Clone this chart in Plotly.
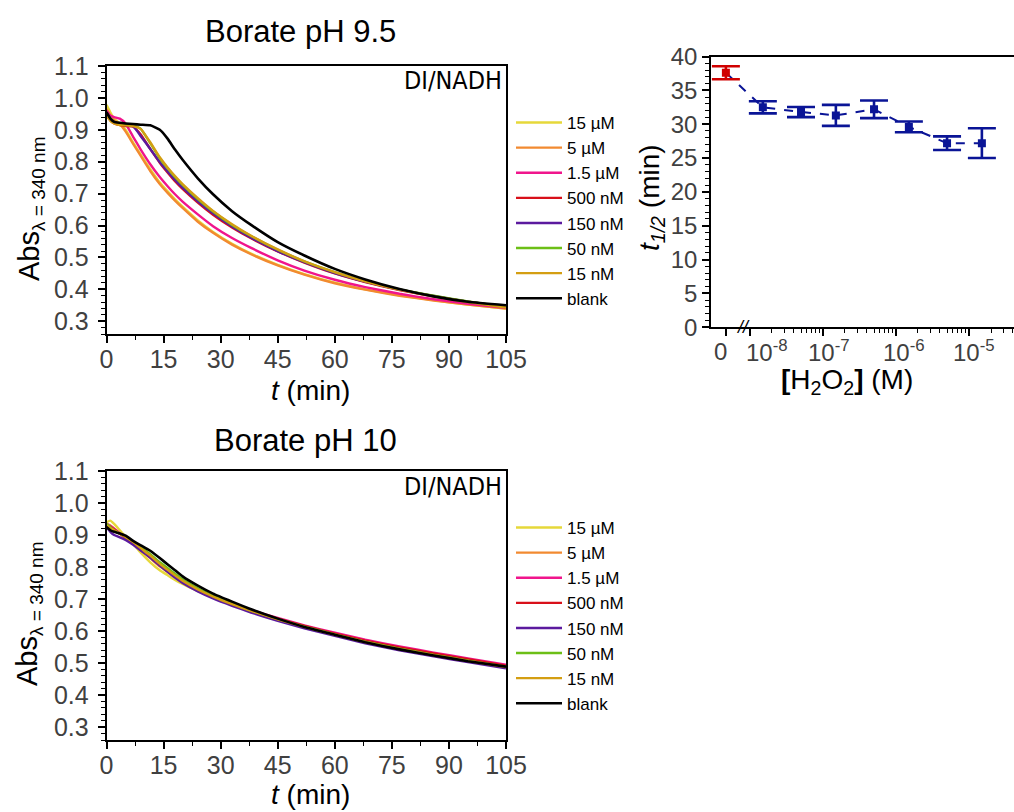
import plotly.graph_objects as go

# ---------------- data ----------------
time_min = [0, 1, 2, 3.5, 5, 7, 9, 11.5, 14, 16, 18, 20, 24, 28, 33, 38, 45, 52, 60, 68, 77, 86, 95, 105]

labels = ["15 µM", "5 µM", "1.5 µM", "500 nM", "150 nM", "50 nM", "15 nM", "blank"]
colors = ["#E6D83A", "#F28A30", "#F0158C", "#D8101A", "#5B1A9E", "#6CBF16", "#D49E12", "#000000"]

# Borate pH 9.5
ph95_15uM = [0.978, 0.955, 0.935, 0.920, 0.900, 0.860, 0.822, 0.777, 0.735, 0.708, 0.682, 0.659, 0.616, 0.580, 0.543, 0.512, 0.477, 0.448, 0.421, 0.400, 0.381, 0.366, 0.352, 0.340]
ph95_5uM = [0.965, 0.945, 0.930, 0.918, 0.895, 0.856, 0.818, 0.771, 0.730, 0.703, 0.678, 0.655, 0.612, 0.577, 0.540, 0.510, 0.475, 0.446, 0.419, 0.399, 0.380, 0.365, 0.352, 0.340]
ph95_1_5uM = [0.960, 0.945, 0.940, 0.935, 0.920, 0.878, 0.838, 0.792, 0.752, 0.724, 0.698, 0.675, 0.635, 0.598, 0.561, 0.530, 0.491, 0.459, 0.430, 0.407, 0.386, 0.369, 0.355, 0.342]
ph95_500nM = [0.950, 0.930, 0.920, 0.915, 0.912, 0.910, 0.885, 0.840, 0.797, 0.767, 0.739, 0.715, 0.672, 0.634, 0.594, 0.560, 0.519, 0.484, 0.450, 0.423, 0.398, 0.378, 0.361, 0.345]
ph95_150nM = [0.955, 0.935, 0.925, 0.918, 0.915, 0.912, 0.880, 0.840, 0.799, 0.770, 0.743, 0.719, 0.676, 0.638, 0.597, 0.562, 0.520, 0.485, 0.451, 0.424, 0.399, 0.379, 0.361, 0.345]
ph95_50nM = [0.955, 0.935, 0.925, 0.918, 0.916, 0.914, 0.903, 0.858, 0.811, 0.780, 0.752, 0.727, 0.683, 0.644, 0.602, 0.567, 0.524, 0.488, 0.454, 0.426, 0.400, 0.380, 0.362, 0.345]
ph95_15nM = [0.945, 0.928, 0.920, 0.915, 0.914, 0.912, 0.903, 0.861, 0.814, 0.783, 0.755, 0.730, 0.686, 0.646, 0.604, 0.568, 0.525, 0.488, 0.454, 0.425, 0.399, 0.378, 0.360, 0.343]
ph95_blank = [0.955, 0.935, 0.925, 0.922, 0.920, 0.918, 0.916, 0.914, 0.900, 0.873, 0.838, 0.806, 0.748, 0.698, 0.645, 0.602, 0.548, 0.506, 0.464, 0.431, 0.401, 0.378, 0.361, 0.350]

# Borate pH 10
ph10_15uM = [0.940, 0.945, 0.935, 0.915, 0.895, 0.872, 0.845, 0.815, 0.790, 0.775, 0.760, 0.747, 0.725, 0.705, 0.682, 0.661, 0.635, 0.612, 0.588, 0.565, 0.543, 0.524, 0.506, 0.487]
ph10_5uM = [0.935, 0.930, 0.920, 0.905, 0.892, 0.874, 0.853, 0.828, 0.802, 0.785, 0.768, 0.752, 0.727, 0.706, 0.683, 0.662, 0.636, 0.613, 0.589, 0.566, 0.544, 0.525, 0.507, 0.488]
ph10_1_5uM = [0.935, 0.928, 0.920, 0.906, 0.893, 0.876, 0.856, 0.832, 0.807, 0.789, 0.772, 0.756, 0.730, 0.709, 0.686, 0.666, 0.641, 0.618, 0.595, 0.573, 0.552, 0.533, 0.515, 0.495]
ph10_500nM = [0.930, 0.925, 0.917, 0.904, 0.892, 0.875, 0.855, 0.831, 0.806, 0.788, 0.771, 0.755, 0.729, 0.708, 0.685, 0.664, 0.639, 0.616, 0.592, 0.570, 0.549, 0.530, 0.512, 0.492]
ph10_150nM = [0.925, 0.910, 0.900, 0.893, 0.885, 0.870, 0.852, 0.830, 0.805, 0.786, 0.767, 0.750, 0.724, 0.702, 0.679, 0.658, 0.632, 0.609, 0.585, 0.562, 0.540, 0.521, 0.503, 0.484]
ph10_50nM = [0.935, 0.925, 0.915, 0.905, 0.895, 0.880, 0.862, 0.840, 0.815, 0.797, 0.779, 0.762, 0.734, 0.711, 0.686, 0.664, 0.638, 0.614, 0.590, 0.567, 0.545, 0.526, 0.508, 0.489]
ph10_15nM = [0.930, 0.922, 0.915, 0.904, 0.894, 0.878, 0.859, 0.836, 0.810, 0.792, 0.774, 0.757, 0.730, 0.708, 0.684, 0.663, 0.637, 0.613, 0.589, 0.566, 0.544, 0.525, 0.507, 0.488]
ph10_blank = [0.925, 0.915, 0.910, 0.905, 0.898, 0.882, 0.868, 0.851, 0.828, 0.809, 0.790, 0.771, 0.742, 0.717, 0.692, 0.668, 0.639, 0.613, 0.589, 0.565, 0.543, 0.524, 0.506, 0.489]

ph95_series = [ph95_15uM, ph95_5uM, ph95_1_5uM, ph95_500nM, ph95_150nM, ph95_50nM, ph95_15nM, ph95_blank]
ph10_series = [ph10_15uM, ph10_5uM, ph10_1_5uM, ph10_500nM, ph10_150nM, ph10_50nM, ph10_15nM, ph10_blank]

# half-life vs H2O2 concentration
h2o2_conc_M = [1.5e-8, 5e-8, 1.5e-7, 5e-7, 1.5e-6, 5e-6, 1.5e-5]
t_half_min = [32.5, 31.8, 31.3, 32.2, 29.6, 27.2, 27.2]
t_half_err = [0.9, 0.75, 1.55, 1.3, 0.8, 1.0, 2.2]
blank_t_half = 37.6
blank_t_half_err = 0.95

x_tick_labels = ["0", "10<sup>-8</sup>", "10<sup>-7</sup>", "10<sup>-6</sup>", "10<sup>-5</sup>"]
# label centres on the broken log axis (log10 units; first one is the "0" of the blank)
x_tick_label_pos = [-8.40, -7.77, -6.92, -5.89, -4.93]

# position of the "0" (blank) on the broken log axis
BLANK_POS = 10 ** -8.33

# ---------------- figure ----------------
FONT = "Arial, Liberation Sans, sans-serif"
NARROW = "Liberation Sans Narrow, Arial Narrow, DejaVu Sans Condensed, Roboto Condensed, " + FONT
TICK_COLOR = "#404040"
fig = go.Figure()

for i, (lab, col) in enumerate(zip(labels, colors)):
    fig.add_trace(go.Scatter(x=time_min, y=ph95_series[i], mode="lines", name=lab,
                             line=dict(color=col, width=2.6 if col == "#000000" else 2.4, shape="spline", smoothing=0.4),
                             xaxis="x", yaxis="y", legend="legend"))
for i, (lab, col) in enumerate(zip(labels, colors)):
    fig.add_trace(go.Scatter(x=time_min, y=ph10_series[i], mode="lines", name=lab,
                             line=dict(color=col, width=2.6 if col == "#000000" else 2.4, shape="spline", smoothing=0.4),
                             xaxis="x2", yaxis="y2", legend="legend2"))

# dashed connecting line
fig.add_trace(go.Scatter(x=[BLANK_POS] + h2o2_conc_M, y=[blank_t_half] + t_half_min, mode="lines",
                         line=dict(color="#0A1496", width=2, dash="dash"), showlegend=False,
                         xaxis="x3", yaxis="y3"))
fig.add_trace(go.Scatter(x=h2o2_conc_M, y=t_half_min, mode="markers",
                         marker=dict(symbol="square", size=8, color="#0A1496"),
                         error_y=dict(type="data", array=t_half_err, color="#0A1496", thickness=2.6, width=14),
                         showlegend=False, xaxis="x3", yaxis="y3"))
fig.add_trace(go.Scatter(x=[BLANK_POS], y=[blank_t_half], mode="markers",
                         marker=dict(symbol="square", size=8, color="#D00000"),
                         error_y=dict(type="data", array=[blank_t_half_err], color="#D00000", thickness=2.6, width=14),
                         showlegend=False, xaxis="x3", yaxis="y3"))

W, H = 1014, 812
def px_x(p):
    return p / W
def px_y(p):
    return 1 - p / H

time_axis = dict(range=[0, 105], tick0=0, dtick=15, ticks="outside", ticklen=7, tickwidth=1.5, tickcolor="black",
                 minor=dict(dtick=7.5, tick0=0, ticks="outside", ticklen=4, tickwidth=1.2, tickcolor="black"),
                 showline=True, linewidth=1.6, linecolor="black", mirror=True, showgrid=False, zeroline=False,
                 tickfont=dict(family=FONT, size=25, color=TICK_COLOR), ticklabelstandoff=-5)
abs_axis = dict(range=[0.26, 1.1], tick0=0.3, dtick=0.1, tickformat=".1f", ticks="outside", ticklen=7, tickwidth=1.5,
                tickcolor="black",
                minor=dict(dtick=0.02, tick0=0.3, ticks="outside", ticklen=4, tickwidth=1.2, tickcolor="black"),
                showline=True, linewidth=1.6, linecolor="black", mirror=True, showgrid=False, zeroline=False,
                tickfont=dict(family=FONT, size=25, color=TICK_COLOR), ticklabelstandoff=4)

minor_log = []
for e in [-8, -7, -6, -5]:
    for k in range(2, 10):
        minor_log.append(k * 10 ** e)

legend_common = dict(xanchor="left", yanchor="top", font=dict(family=FONT, size=17, color="black"),
                     bgcolor="rgba(0,0,0,0)", borderwidth=0, itemwidth=46, tracegroupgap=0,
                     itemclick=False, itemdoubleclick=False)

fig.update_layout(
    width=W, height=H, margin=dict(l=0, r=0, t=0, b=0, autoexpand=False),
    paper_bgcolor="white", plot_bgcolor="white",
    font=dict(family=FONT, color="black"),
    xaxis=dict(domain=[px_x(106.5), px_x(506)], anchor="y", **time_axis),
    yaxis=dict(domain=[px_y(334), px_y(66)], anchor="x", **abs_axis),
    xaxis2=dict(domain=[px_x(106.5), px_x(506)], anchor="y2", **time_axis),
    yaxis2=dict(domain=[px_y(740), px_y(471)], anchor="x2", **abs_axis),
    xaxis3=dict(domain=[px_x(711), 1.0], anchor="y3", type="log", range=[-8.534, -4.384],
                tickmode="array", tickvals=[BLANK_POS, 1e-8, 1e-7, 1e-6, 1e-5], showticklabels=False,
                ticks="outside", ticklen=7, tickwidth=1.5, tickcolor="black",
                minor=dict(tickmode="array", tickvals=minor_log, ticks="outside", ticklen=4, tickwidth=1.2,
                           tickcolor="black"),
                showline=True, linewidth=1.6, linecolor="black", mirror=True, showgrid=False, zeroline=False),
    yaxis3=dict(domain=[px_y(327.3), px_y(56.5)], anchor="x3", range=[0, 40], tick0=0, dtick=5,
                ticks="outside", ticklen=7, tickwidth=1.5, tickcolor="black",
                minor=dict(dtick=1, tick0=0, ticks="outside", ticklen=4, tickwidth=1.2, tickcolor="black"),
                showline=True, linewidth=1.6, linecolor="black", showgrid=False, zeroline=False,
                tickfont=dict(family=FONT, size=24, color=TICK_COLOR), ticklabelstandoff=0),
    legend=dict(x=px_x(511), y=px_y(105), **legend_common),
    legend2=dict(x=px_x(511), y=px_y(510), **legend_common),
    showlegend=True,
)

abs_title = "Abs<sub><span style=\"font-size:19px\">λ = 340 nm</span></sub>"
annotations = [
    dict(text="Borate pH 9.5", x=px_x(300), y=px_y(31), xref="paper", yref="paper", showarrow=False,
         font=dict(family=FONT, size=31, color="black"), xanchor="center", yanchor="middle"),
    dict(text="Borate pH 10", x=px_x(305), y=px_y(440), xref="paper", yref="paper", showarrow=False,
         font=dict(family=FONT, size=31, color="black"), xanchor="center", yanchor="middle"),
    dict(text="DI/NADH", x=0.995, y=1.0, xref="x domain", yref="y domain", showarrow=False,
         font=dict(family=NARROW, size=25, color="black"), xanchor="right", yanchor="top", yshift=2),
    dict(text="DI/NADH", x=0.995, y=1.0, xref="x2 domain", yref="y2 domain", showarrow=False,
         font=dict(family=NARROW, size=25, color="black"), xanchor="right", yanchor="top", yshift=1),
    dict(text=abs_title, x=px_x(31), y=px_y(209), xref="paper", yref="paper", showarrow=False,
         textangle=-90, font=dict(family=FONT, size=29, color="black"), xanchor="center", yanchor="middle"),
    dict(text=abs_title, x=px_x(29), y=px_y(614), xref="paper", yref="paper", showarrow=False,
         textangle=-90, font=dict(family=FONT, size=29, color="black"), xanchor="center", yanchor="middle"),
    dict(text="<i>t</i> (min)", x=px_x(310), y=px_y(390), xref="paper", yref="paper", showarrow=False,
         font=dict(family=FONT, size=28, color="black"), xanchor="center", yanchor="middle"),
    dict(text="<i>t</i> (min)", x=px_x(310), y=px_y(794), xref="paper", yref="paper", showarrow=False,
         font=dict(family=FONT, size=28, color="black"), xanchor="center", yanchor="middle"),
    dict(text="<i>t</i><sub><i>1/2</i></sub> (min)", x=px_x(652), y=px_y(198), xref="paper", yref="paper",
         showarrow=False, textangle=-90, font=dict(family=FONT, size=28, color="black"),
         xanchor="center", yanchor="middle"),
    dict(text="<b>[</b>H<sub>2</sub>O<sub>2</sub><b>]</b> (M)", x=px_x(847), y=px_y(381), xref="paper",
         yref="paper", showarrow=False, font=dict(family=FONT, size=28, color="black"),
         xanchor="center", yanchor="middle"),
    dict(text="<i>//</i>", x=-8.096, y=0, xref="x3", yref="y3", showarrow=False,
         font=dict(family=FONT, size=18, color="black"), xanchor="center", yanchor="middle"),
]
for lab, pos in zip(x_tick_labels, x_tick_label_pos):
    annotations.append(dict(text=lab, x=pos, y=px_y(351), xref="x3", yref="paper", showarrow=False,
                            font=dict(family=FONT, size=24, color=TICK_COLOR), xanchor="center",
                            yanchor="middle"))
fig.update_layout(annotations=annotations)

fig.write_html("out.html")
